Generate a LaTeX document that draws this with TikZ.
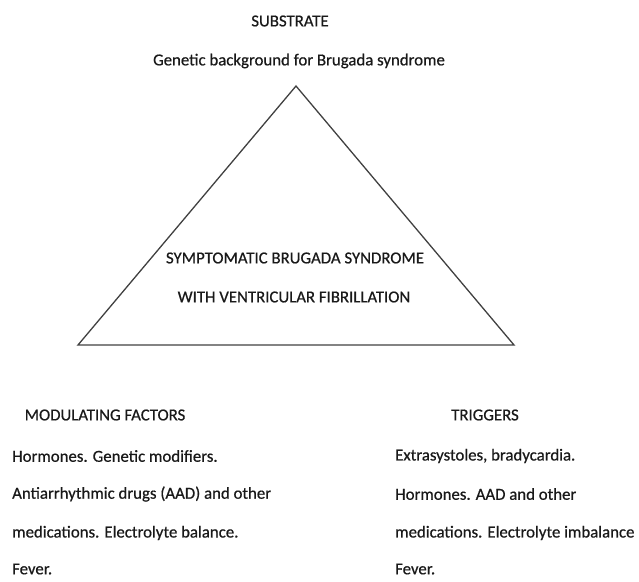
\documentclass[tikz,border=0pt]{standalone}
\usepackage{fontspec}
\setmainfont{Carlito}[FakeBold=0.6]
\usepackage{tikz}
\usetikzlibrary{positioning}

\begin{document}
\begin{tikzpicture}[
  x=1pt, y=-1pt,
  font=\fontsize{16.8}{20}\selectfont,
  headlabel/.style={
    anchor=center, inner sep=0pt, text=black!90
  },
  itemlabel/.style={
    anchor=west, inner sep=0pt, text=black!90
  },
  triline/.style={
    line width=1.3pt, black!75, line join=miter
  }
]

% Page frame
\useasboundingbox (0,0) rectangle (639,581);

% Substrate on top
\node[headlabel] (substrate) at (290,21) {SUBSTRATE};
\node[headlabel] (genetic) at (299,61) {Genetic background for Brugada syndrome};

% Triangle
\coordinate (apex) at (296,86);
\coordinate (baseL) at (78,345);
\coordinate (baseR) at (514,345);
\draw[triline] (apex) -- (baseR) -- (baseL) -- cycle;

\node[headlabel] (sympt) at (295,258) {SYMPTOMATIC BRUGADA SYNDROME};
\node[headlabel] (withvf) at (294,297) {WITH VENTRICULAR FIBRILLATION};

% ===== Modulating factors =====
\node[headlabel] (modhead) at (105,415) {MODULATING FACTORS};
\node[itemlabel] (modA) at (12,456) {Hormones. Genetic modifiers.};
\node[itemlabel] (modB) at (12,494) {Antiarrhythmic drugs (AAD) and other};
\node[itemlabel] (modC) at (12,533) {medications. Electrolyte balance.};
\node[itemlabel] (modD) at (12,569) {Fever.};

% ===== Triggers =====
\node[headlabel] (trighead) at (485,415) {TRIGGERS};
\node[itemlabel] (trigA) at (395,456) {Extrasystoles, bradycardia.};
\node[itemlabel] (trigB) at (395,494) {Hormones. AAD and other};
\node[itemlabel] (trigC) at (395,533) {medications. Electrolyte imbalance};
\node[itemlabel] (trigD) at (395,569) {Fever.};

\end{tikzpicture}
\end{document}
